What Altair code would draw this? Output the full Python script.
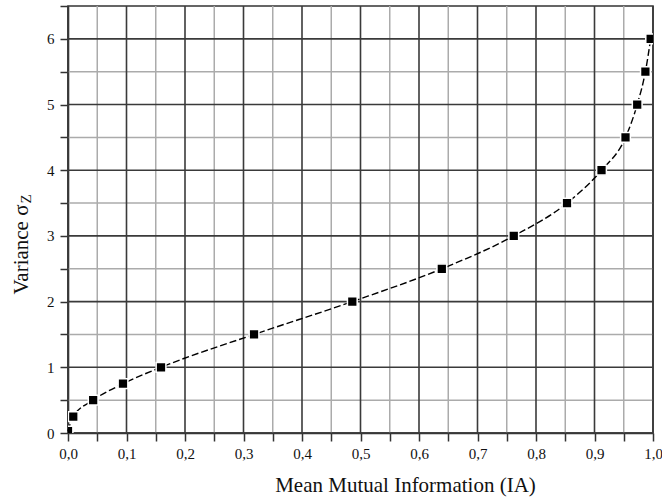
import altair as alt
import pandas as pd

# data
mmi = [0.0, 0.009, 0.043, 0.094, 0.159, 0.318, 0.486, 0.639, 0.762, 0.853, 0.912, 0.953, 0.973, 0.987, 0.996]
variance = [0.03, 0.25, 0.5, 0.75, 1.0, 1.5, 2.0, 2.5, 3.0, 3.5, 4.0, 4.5, 5.0, 5.5, 6.0]
x_ticks = [round(i * 0.05, 2) for i in range(21)]
y_ticks = [round(i * 0.5, 1) for i in range(14)]
x_major = [round(i * 0.1, 1) for i in range(11)]
x_minor = [round(0.05 + i * 0.1, 2) for i in range(10)]
y_major = [float(i) for i in range(7)]
y_minor = [0.5 + i for i in range(6)]

df = pd.DataFrame({"x": mmi, "y": variance})

FONT = "Liberation Serif"
MAJOR = "#3a3a3a"
MINOR = "#ababab"

x_major_test = "abs(datum.value*10 - round(datum.value*10)) < 0.001"
y_major_test = "abs(datum.value - round(datum.value)) < 0.001"

xs = alt.Scale(domain=[0, 1], nice=False, zero=False)
ys = alt.Scale(domain=[0, 6.5], nice=False, zero=False)

x_axis = alt.Axis(
    values=x_ticks,
    labelExpr=f"{x_major_test} ? replace(format(datum.value, '.1f'), '.', ',') : ''",
    grid=False,
    tickSize=8, tickColor="#333", tickWidth=1.5,
    domainColor="#333", domainWidth=1.6,
    labelFont=FONT, labelFontSize=15, labelColor="#111", labelPadding=5,
    labelFlush=False, labelOverlap=False,
    title="Mean Mutual Information (IA)",
    titleFont=FONT, titleFontSize=21, titleFontWeight="normal", titleColor="#111",
    titleX=337, titleY=58, titleBaseline="alphabetic", titleAlign="center",
)

y_axis = alt.Axis(
    values=y_ticks,
    labelExpr=f"{y_major_test} ? format(datum.value, 'd') : ''",
    grid=False,
    tickSize=8, tickColor="#333", tickWidth=1.5,
    domainColor="#333", domainWidth=1.6,
    labelFont=FONT, labelFontSize=15, labelColor="#111", labelPadding=6,
    labelFlush=False, labelOverlap=False,
    title="Variance σ",
    titleFont=FONT, titleFontSize=21, titleFontWeight="normal", titleColor="#111",
    titleAngle=270, titleX=-41, titleY=243, titleBaseline="alphabetic", titleAlign="center",
)


def vrules(vals, color, width):
    return alt.Chart(pd.DataFrame({"x": vals})).mark_rule(color=color, strokeWidth=width).encode(
        x=alt.X("x:Q", scale=xs, axis=x_axis)
    )


def hrules(vals, color, width):
    return alt.Chart(pd.DataFrame({"y": vals})).mark_rule(color=color, strokeWidth=width).encode(
        y=alt.Y("y:Q", scale=ys, axis=y_axis)
    )


grid = alt.layer(
    vrules(x_minor, MINOR, 1.5),
    hrules(y_minor, MINOR, 1.5),
    vrules(x_major, MAJOR, 1.6),
    hrules(y_major, MAJOR, 1.6),
)

base = alt.Chart(df)

line = base.mark_line(
    color="black", strokeWidth=1.4, strokeDash=[7, 3], interpolate="monotone"
).encode(
    x=alt.X("x:Q", scale=xs, axis=x_axis),
    y=alt.Y("y:Q", scale=ys, axis=y_axis),
)

points = base.mark_point(
    shape="square", filled=True, fill="black", size=95, opacity=1,
    stroke="white", strokeWidth=1.5, clip=True,
).encode(
    x=alt.X("x:Q", scale=xs, axis=x_axis),
    y=alt.Y("y:Q", scale=ys, axis=y_axis),
)

sub = alt.Chart(pd.DataFrame({"t": ["Z"]})).mark_text(
    angle=270, align="center", baseline="alphabetic", font=FONT, fontSize=15, color="#111"
).encode(
    x=alt.value(-37), y=alt.value(193), text="t:N"
)

chart = alt.layer(grid, line, points, sub).properties(
    width=585, height=427,
    autosize=alt.AutoSizeParams(type="none"),
    padding={"left": 68, "top": 6, "right": 9, "bottom": 65},
    background="white",
).configure_view(stroke="#333", strokeWidth=1.6)

chart.save("out.html", embed_options={"renderer": "svg", "actions": False})
